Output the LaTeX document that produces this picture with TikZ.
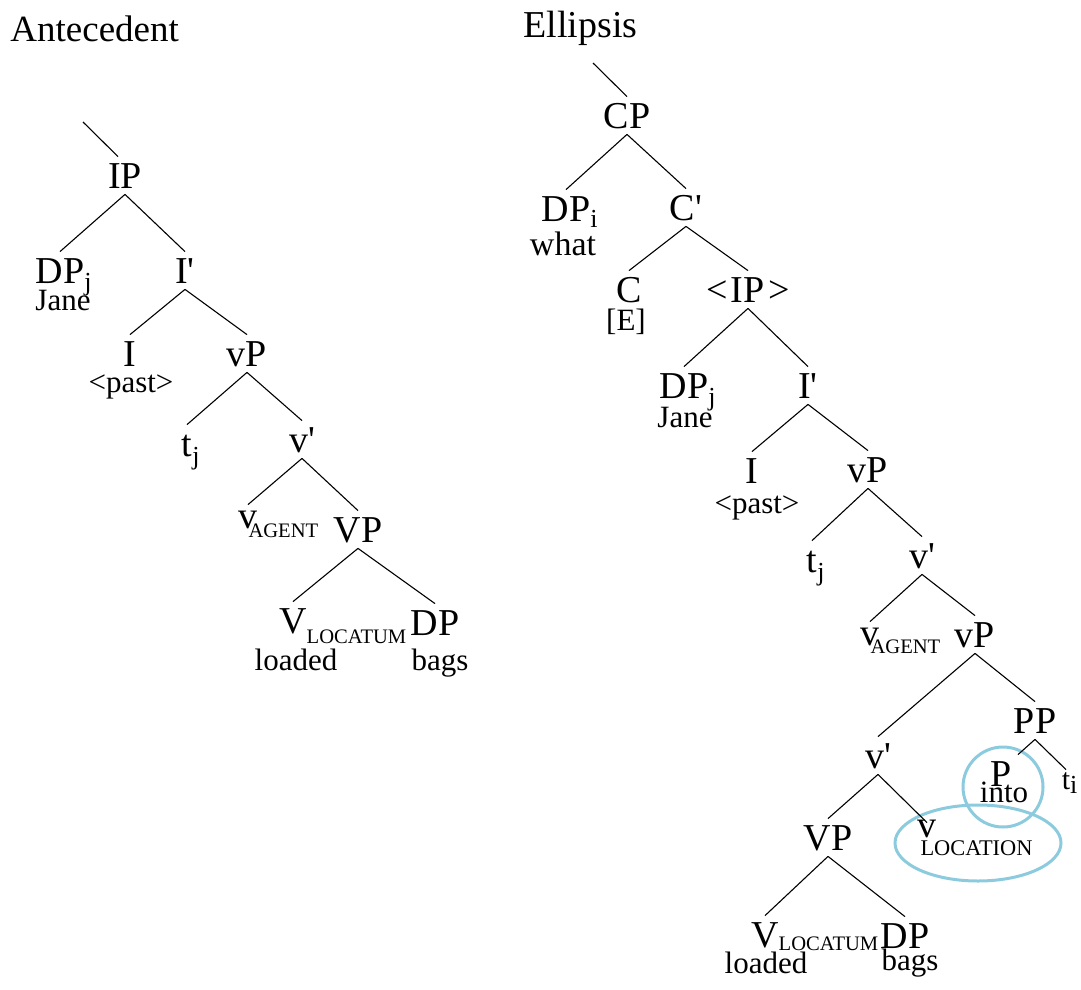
\documentclass[tikz,border=0pt]{standalone}
\usepackage{fontspec}
\setmainfont{Liberation Serif}
\definecolor{ringblue}{RGB}{140,203,222}
\newcommand{\labfont}{\fontsize{19}{21}\selectfont}
\newcommand{\wordfont}{\fontsize{15.5}{17}\selectfont}
\newcommand{\idx}[2][4pt]{\rlap{\raisebox{-#1}{\fontsize{13}{13}\selectfont #2}}}
\newcommand{\feat}[3][4.5pt]{\rlap{\hspace{#2}\raisebox{-#1}{\fontsize{10.3}{11}\selectfont #3}}}
\newcommand{\prm}{\textquotesingle}

\begin{document}
\begin{tikzpicture}[
		x=0.5pt, y=-0.5pt,
		every node/.style={anchor=base, inner sep=3pt},
		lab/.style={font=\labfont, text height=12.5pt, text depth=0pt},
		low/.style={lab, text height=8.5pt},
		word/.style={font=\wordfont},
		title/.style={anchor=base west, inner sep=0pt, font=\fontsize{18.5}{20}\selectfont},
		branch/.style={line width=0.55pt},
		ring/.style={draw=ringblue, line width=1.5pt}
		]
		\useasboundingbox (0,0) rectangle (1081,990);
		
		% antecedent tree
		\node[title] (ant) at (10,42) {Antecedent};
		\coordinate (top1) at (83,122);
		\node[lab] (ip) at (125,188) {IP};
		\node[lab] (dpj) at (60,283) {DP\idx[3.5pt]{j}};
		\node[word] (jane1) at (63,310) {Jane};
		\node[lab] (ibar1) at (185,283) {I\prm};
		\node[lab] (i1) at (130,366) {I};
		\node[word] (past1) at (131,392) {<past>};
		\node[lab] (vp1) at (247,366) {vP};
		\node[lab] (tj1) at (187,456) {t\idx{j}};
		\node[lab] (vbar1) at (302,452) {v\prm};
		\node[low] (vag1) at (248,528) {v\feat{-4.5pt}{AGENT}};
		\node[lab] (vpp1) at (358,542) {VP};
		\node[lab] (vloc1) at (293,633) {V\feat[5pt]{0pt}{LOCATUM}};
		\node[word] (loaded1) at (296,670) {loaded};
		\node[lab] (dp1) at (435,635) {DP};
		\node[word] (bags1) at (440,670) {bags};
		
		% ellipsis tree
		\node[title, font=\labfont] (ell) at (523,38) {Ellipsis};
		\coordinate (top2) at (593,63);
		\node[lab] (cp) at (627,128) {CP};
		\node[lab] (dpi) at (566,221) {DP\idx[3pt]{i}};
		\node[word, font=\fontsize{17}{18}\selectfont] (what) at (563,255) {what};
		\node[lab] (cbar) at (686,220) {C\prm};
		\node[lab] (c) at (629,302) {C};
		\node[word] (e) at (626,330) {[E]};
		\node[lab] (ipb) at (748,302) {<\kern1.5pt IP\kern2pt>};
		\node[lab] (dpj2) at (684,398) {DP\idx[3.5pt]{j}};
		\node[word] (jane2) at (685,427) {Jane};
		\node[lab] (ibar2) at (808,398) {I\prm};
		\node[lab] (i2) at (752,483) {I};
		\node[word] (past2) at (757,513) {<past>};
		\node[lab] (vp2) at (868,482) {vP};
		\node[lab] (tj2) at (812,572) {t\idx{j}};
		\node[lab] (vbar2) at (922,568) {v\prm};
		\node[low] (vag2) at (870,645) {v\feat[4pt]{-4.5pt}{AGENT}};
		\node[lab] (vp3) at (975,647) {vP};
		\node[lab] (vbar3) at (878,768) {v\prm};
		\node[lab] (pp) at (1035,733) {PP};
		\node[lab] (p) at (1001,786) {P};
		\node[word] (into) at (1004,802) {into};
		\node[lab, font=\fontsize{15}{16}\selectfont, text height=6.5pt] (ti) at (1066,789) {t\idx[2pt]{\fontsize{13}{13}\selectfont i}};
		\node[lab] (vpp2) at (828,850) {VP};
		\node[lab, text height=4pt] (vloc2) at (927,837) {v\rlap{\hspace{-8pt}\raisebox{-9pt}{\fontsize{11.2}{12}\selectfont LOCATION}}};
		\node[lab] (vlocatum2) at (765,947) {V\feat[1.5pt]{0pt}{LOCATUM}};
		\node[word] (loaded2) at (766,973) {loaded};
		\node[lab] (dp2) at (905,948) {DP};
		\node[word] (bags2) at (910,970) {bags};
		
		% rings round P and v
		\draw[ring] (1003,787) circle[radius=20pt];
		\draw[ring] (978,843) ellipse[x radius=41.5pt, y radius=19pt];
		
		% branches
		\draw[branch] (top1) -- ([xshift=-3.5pt]ip.north);
		\draw[branch] (top2) -- (cp.north);
		\foreach \a/\b in {ip/dpj, ip/ibar1, ibar1/i1, ibar1/vp1, vp1/tj1, vp1/vbar1,
				vbar1/vag1, vbar1/vpp1, vpp1/vloc1, vpp1/dp1,
				cp/dpi, cp/cbar, cbar/c, cbar/ipb, ipb/dpj2, ipb/ibar2, ibar2/i2, ibar2/vp2,
				vp2/tj2, vp2/vbar2, vbar2/vag2, vbar2/vp3, vp3/vbar3, vp3/pp, pp/ti,
				vbar3/vpp2, vbar3/vloc2, vpp2/vlocatum2, vpp2/dp2}
			\draw[branch] (\a.south) -- (\b.north);
		\draw[branch] (pp.south) -- (p.north east);
	\end{tikzpicture}
\end{document}
